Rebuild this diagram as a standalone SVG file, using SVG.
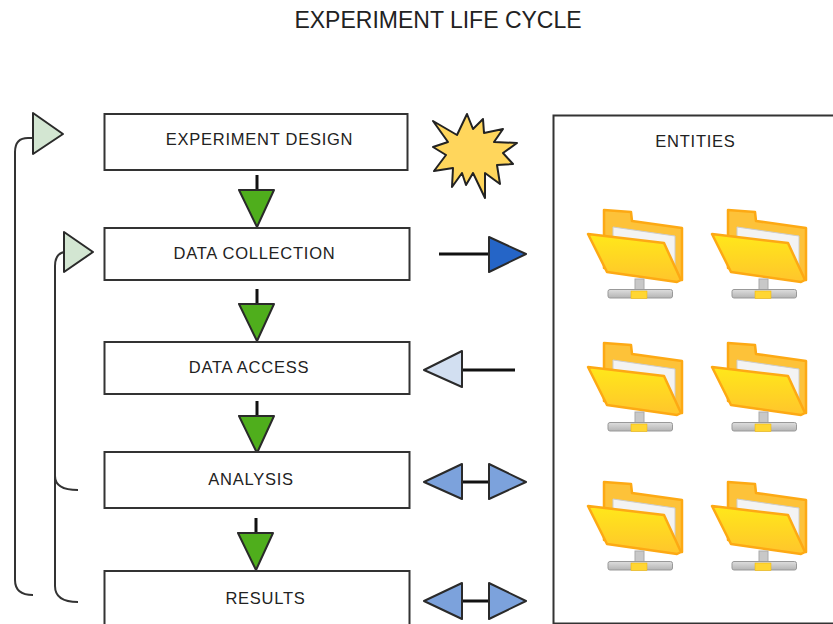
<svg xmlns="http://www.w3.org/2000/svg" width="833" height="624" viewBox="0 0 833 624">
<style>
text{font-family:"Liberation Sans",Arial,sans-serif;fill:#222;text-anchor:middle}
.t{font-size:16.5px;letter-spacing:.75px}
.title{font-size:23px}
.box{fill:#fff;stroke:#333;stroke-width:2}
.line{fill:none;stroke:#111;stroke-width:3}
.thin{fill:none;stroke:#333;stroke-width:2}
.tri{stroke:#2a2a2a;stroke-width:2;stroke-linejoin:round}
.g{fill:#4fae1c}.lg{fill:#d3e6d2}.db{fill:#2565c7}.lb{fill:#d2dff1}.mb{fill:#7ca2dc}
</style>
<defs>
<linearGradient id="fy" x1="0" y1="0" x2="0" y2="1"><stop offset="0" stop-color="#ffe81a"/><stop offset="1" stop-color="#ffc52c"/></linearGradient>
<linearGradient id="bar" x1="0" y1="0" x2="0" y2="1"><stop offset="0" stop-color="#dedede"/><stop offset="1" stop-color="#b4b4b4"/></linearGradient>
<g id="folder">
<path d="M604 210L631 212L632 221L682 228L682 280L604 268Z" fill="#fdc239" stroke="#fda914" stroke-width="2.500" stroke-linejoin="round"/>
<path d="M613 227L675 236L675 275L613 262Z" fill="#f3f3f3" stroke="#ccc" stroke-width="1"/>
<path d="M588 234L664 243L681 280L677 282L607 272Z" fill="url(#fy)" stroke="#fda914" stroke-width="2.500" stroke-linejoin="round"/>
<rect x="635" y="279" width="9" height="11" fill="#c8c8c8" stroke="#aaa"/>
<rect x="608" y="289.500" width="64.500" height="8.500" rx="2" fill="url(#bar)" stroke="#999"/>
<rect x="631" y="291" width="16" height="7.500" fill="#ffd633" stroke="#f0b400" stroke-width=".5"/>
</g>
<g id="dn"><path class="line" d="M257 175V190"/><path class="tri g" d="M239 190H274L257 227Z"/></g>
</defs>
<text class="title" x="438" y="28">EXPERIMENT LIFE CYCLE</text>
<g id="connectors">
<path class="thin" d="M33 138H28Q15 138 15 152V580Q15 595 33 595"/>
<path class="thin" d="M64 252Q55 254 55 266V476Q55 490 78 490"/>
<path class="thin" d="M55 476V586Q55 602 78 602"/>
<path class="tri lg" d="M33 113L63 134L33 154Z"/>
<path class="tri lg" d="M64 232L93 252L64 272Z"/>
<use href="#dn"/>
<use href="#dn" y="114"/>
<use href="#dn" y="226"/>
<use href="#dn" x="-1" y="343"/>
<path class="line" d="M439 254H490"/><path class="tri db" d="M489 237L526 254L489 272Z"/>
<path class="line" d="M462 370H515"/><path class="tri lb" d="M462 351L424 370L462 387Z"/>
<path class="line" d="M462 482H490"/><path class="tri mb" d="M462 464L424 482L462 499Z"/><path class="tri mb" d="M489 464L526 482L489 499Z"/>
<path class="line" d="M462 601H490"/><path class="tri mb" d="M462 583L424 601L462 619Z"/><path class="tri mb" d="M489 583L526 601L489 619Z"/>
</g>
<g id="n1"><rect class="box" x="104.500" y="114" width="303" height="56"/><text class="t" x="259.500" y="145">EXPERIMENT DESIGN</text></g>
<g id="n2"><rect class="box" x="104.500" y="228" width="305" height="52"/><text class="t" x="254.500" y="259">DATA COLLECTION</text></g>
<g id="n3"><rect class="box" x="104.500" y="342" width="305" height="52"/><text class="t" x="249" y="373">DATA ACCESS</text></g>
<g id="n4"><rect class="box" x="104.500" y="452" width="305" height="56"/><text class="t" x="251" y="485">ANALYSIS</text></g>
<g id="n5"><rect class="box" x="104.500" y="571" width="305" height="60"/><text class="t" x="265.500" y="604">RESULTS</text></g>
<g id="star"><path d="M433 121L457 135L467 114L473 129L483 119L484 133L503 129L494 142L517 143L503 153L513 164L497 165L500 184L485 173L485 198L473 173L466 185L462 173L452 187L453 168L434 171L446 155L433 147L448 142Z" fill="#ffd65c" stroke="#222" stroke-width="2" stroke-linejoin="round"/></g>
<g id="entities"><rect class="box" x="553.500" y="115.500" width="290" height="508"/><text class="t" x="695.500" y="147">ENTITIES</text>
<use href="#folder"/><use href="#folder" x="124"/><use href="#folder" y="133"/><use href="#folder" x="124" y="133"/><use href="#folder" y="272"/><use href="#folder" x="124" y="272"/></g>
</svg>
